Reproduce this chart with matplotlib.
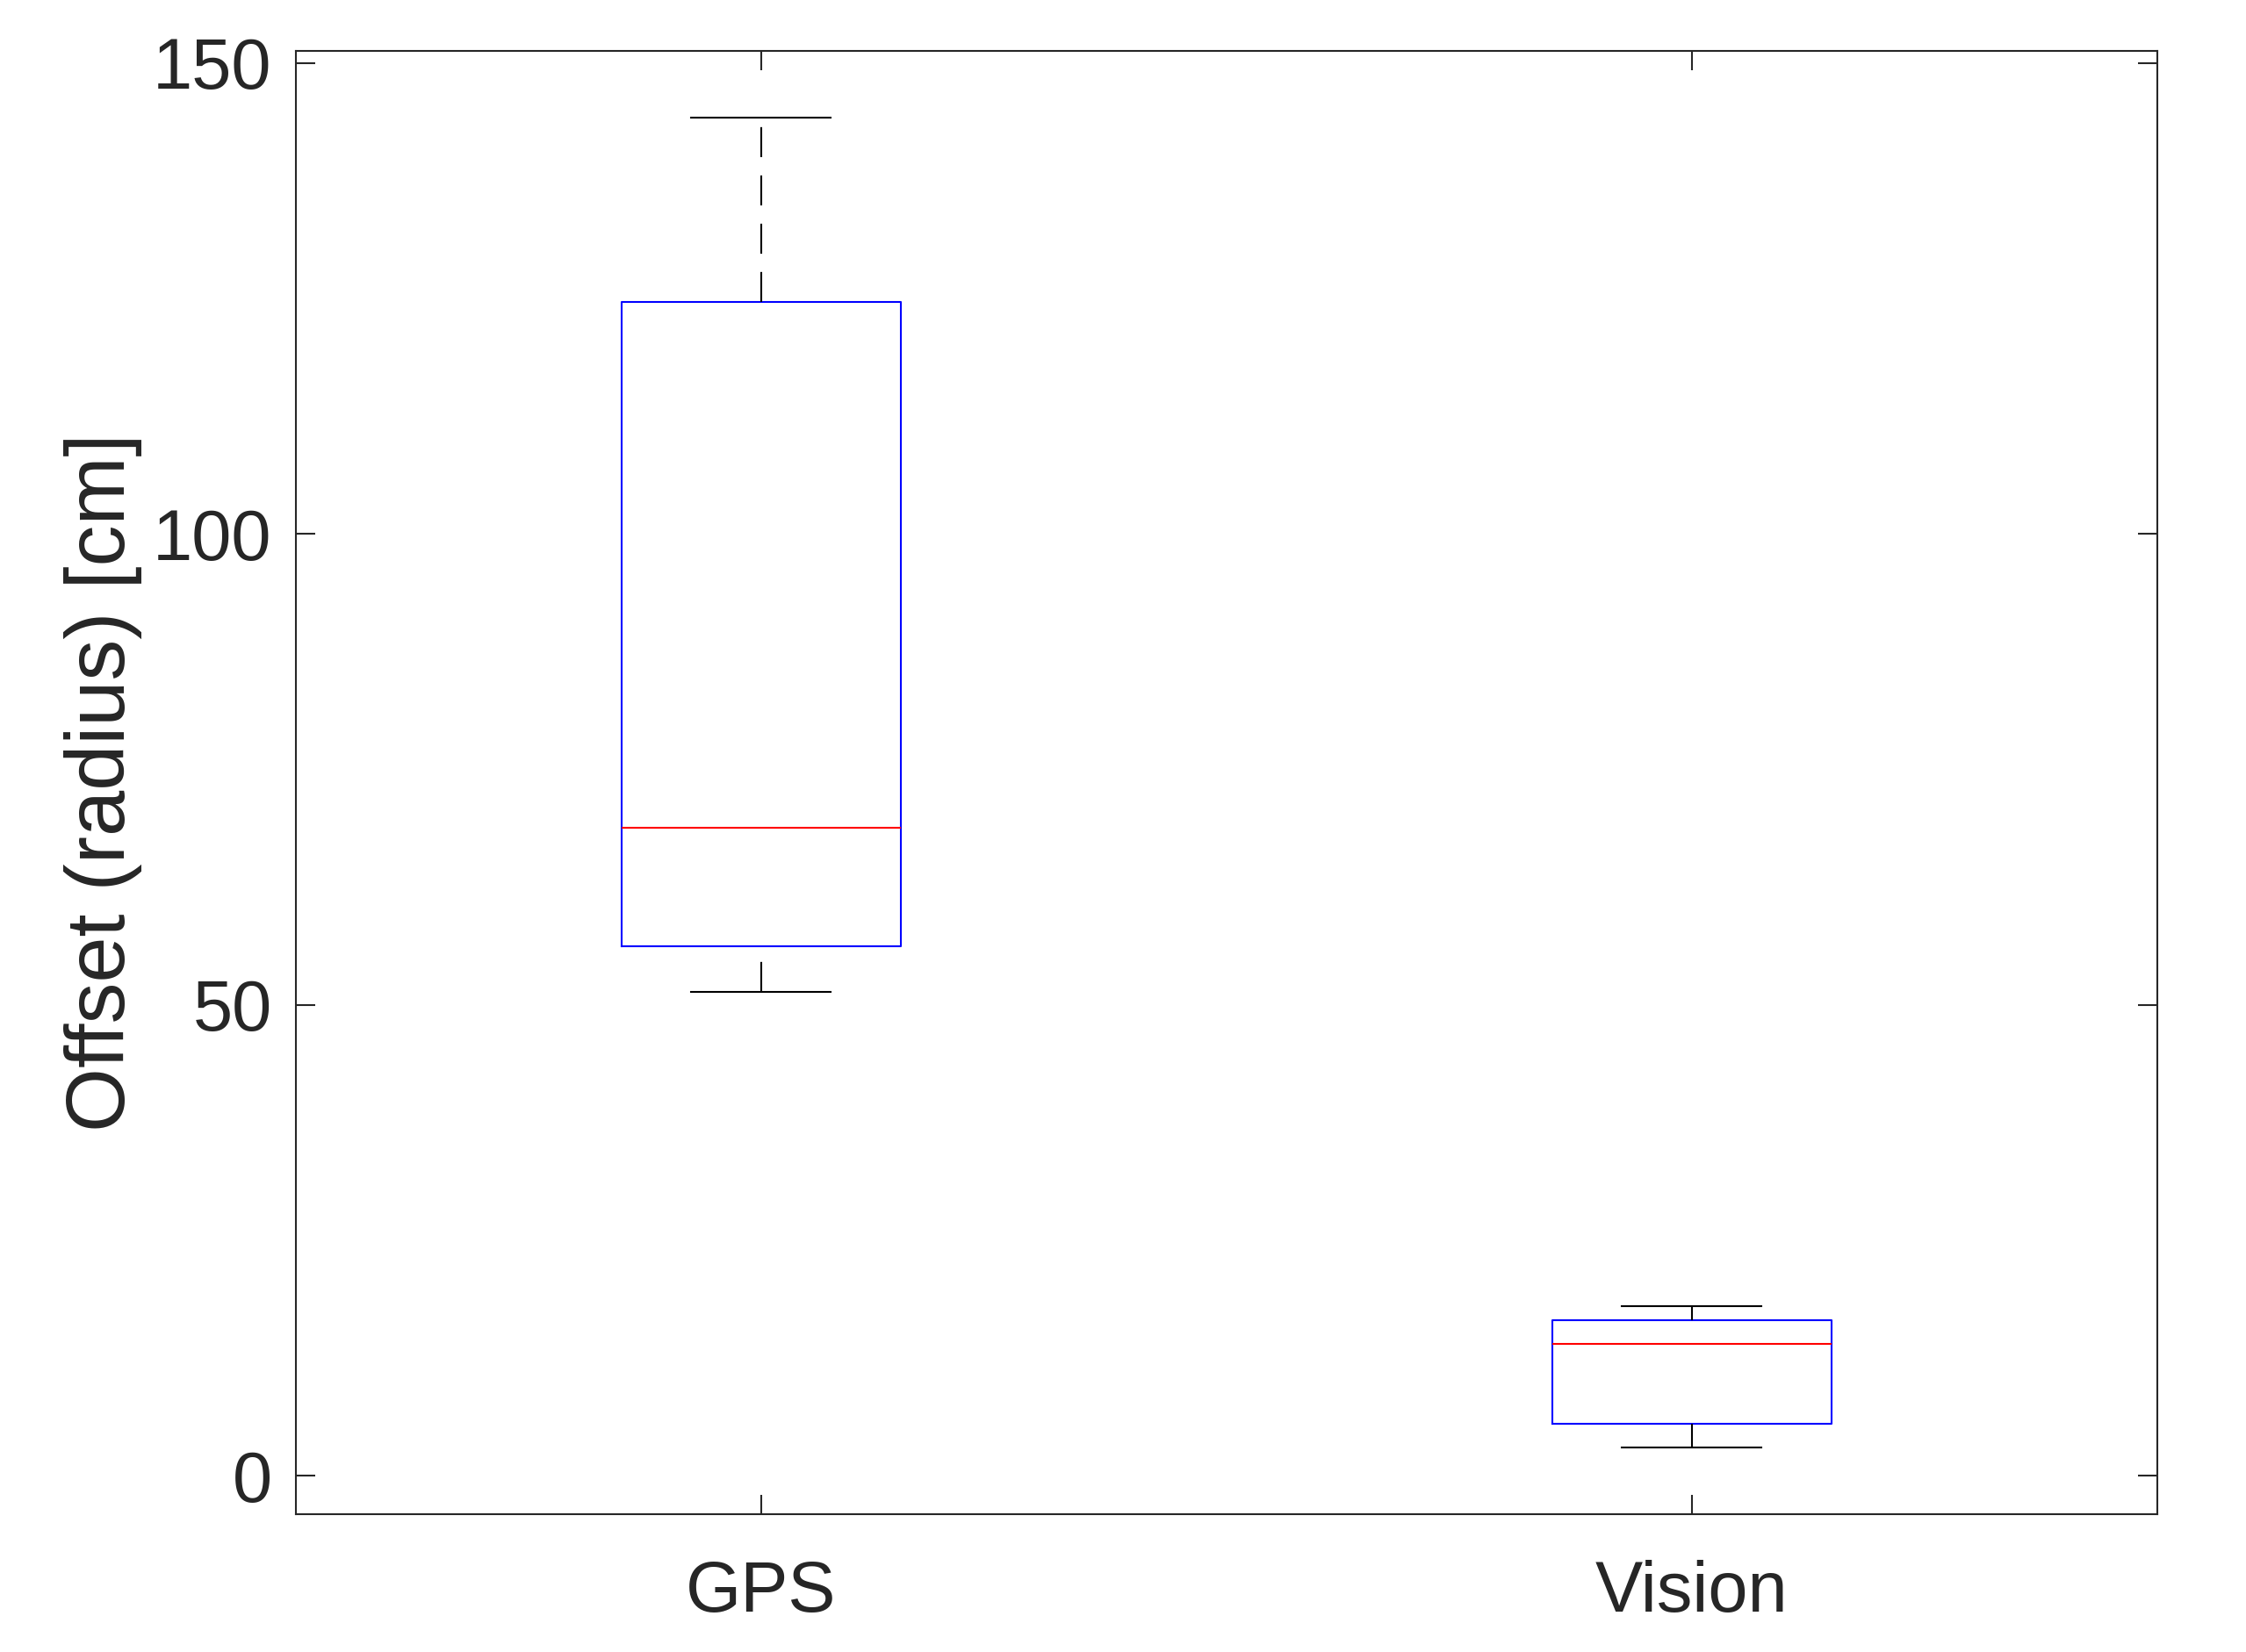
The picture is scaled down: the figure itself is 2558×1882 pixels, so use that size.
import matplotlib
matplotlib.use("Agg")
import matplotlib.pyplot as plt

plt.rcParams['font.family'] = ['Liberation Sans', 'DejaVu Sans']
plt.rcParams['lines.scale_dashes'] = False

# box statistics (cm)
groups = ["GPS", "Vision"]
whisker_low = [51.4, 3.0]
box_q1 = [56.2, 5.5]
medians = [68.85, 14.0]
box_q3 = [124.6, 16.5]
whisker_high = [144.2, 18.0]

ink = "#262626"

stats = []
for i, name in enumerate(groups):
    stats.append(dict(label=name, whislo=whisker_low[i], q1=box_q1[i], med=medians[i],
                      q3=box_q3[i], whishi=whisker_high[i], fliers=[]))

fig = plt.figure(figsize=(2558 / 300, 1882 / 300), dpi=300)
ax = fig.add_axes([0.1316, 0.0834, 0.8288, 0.8856])

parts = ax.bxp(stats, positions=[1, 2], widths=0.3, showfliers=False,
               boxprops=dict(color="blue", linewidth=0.5),
               medianprops=dict(color="red", linewidth=0.5),
               whiskerprops=dict(color="black", linewidth=0.5, linestyle=(0, (8.2, 5.0))),
               capprops=dict(color="black", linewidth=0.5))

# matlab starts the lower whisker's dashes at the cap
for w in parts['whiskers'][0::2]:
    x, y = w.get_data()
    w.set_data(x[::-1], y[::-1])

lo = min(whisker_low)
hi = max(whisker_high)
margin = 0.05 * (hi - lo)
ax.set_ylim(lo - margin, hi + margin)
ax.set_xlim(0.5, 2.5)
ax.set_yticks([0, 50, 100, 150])

ax.set_ylabel("Offset (radius) [cm]", fontsize=22.5, color=ink, labelpad=2.8)
ax.tick_params(direction="in", length=5.3, width=0.5, colors=ink, labelsize=19.5,
               top=True, right=True)
ax.tick_params(axis="y", pad=6.5)
ax.tick_params(axis="x", pad=12.5)
for s in ax.spines.values():
    s.set_color(ink)
    s.set_linewidth(0.5)

fig.savefig("out.png", dpi=300)
